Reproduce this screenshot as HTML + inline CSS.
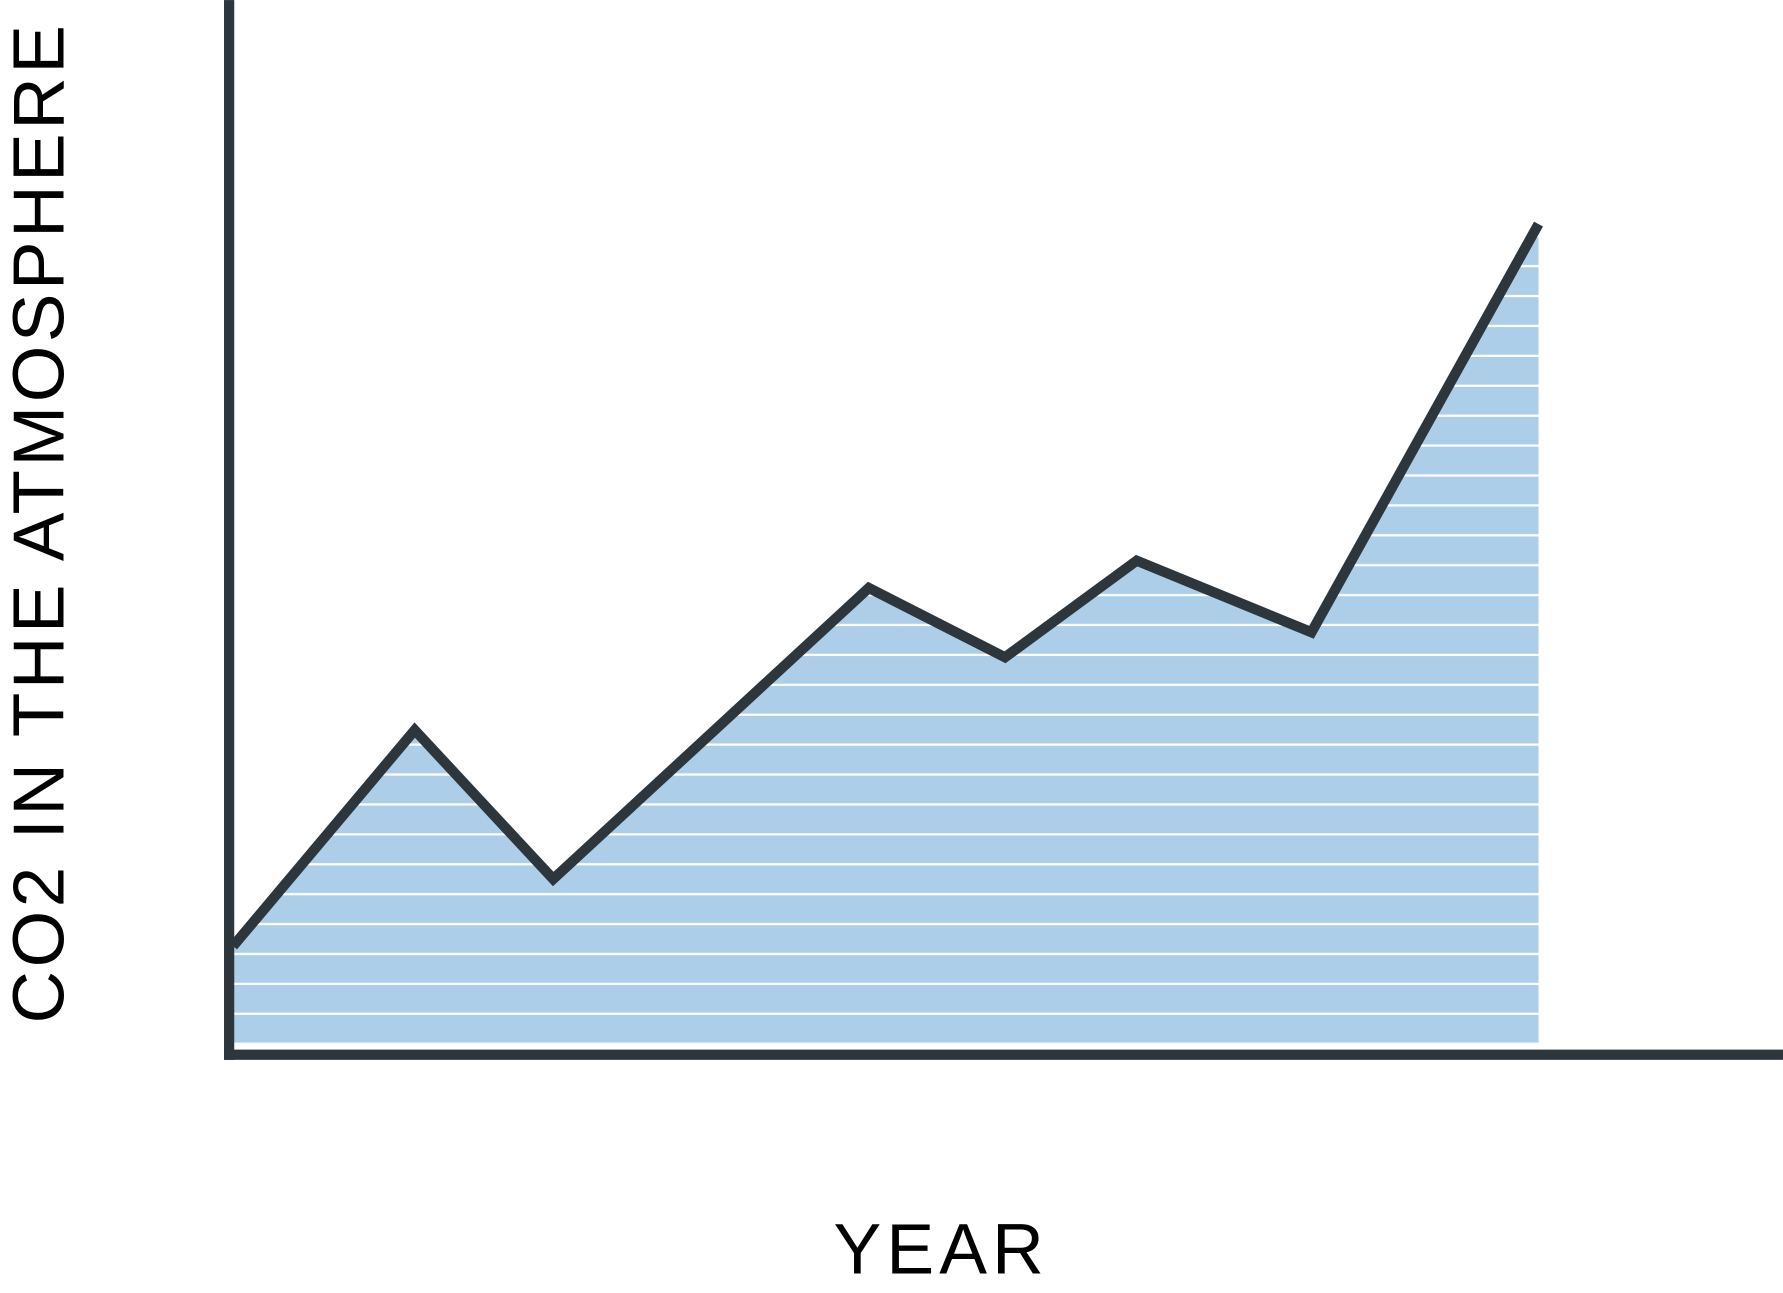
<!DOCTYPE html>
<html><head><meta charset="utf-8"><style>html,body{margin:0;padding:0;background:#fff}svg{display:block}</style></head>
<body>
<svg width="1783" height="1293" viewBox="0 0 1568 1137" xmlns="http://www.w3.org/2000/svg">
<defs>
<pattern id="stripes" patternUnits="userSpaceOnUse" x="0" y="-1.7" width="1568" height="26.3">
<rect width="1568" height="26.3" fill="#acceE8"/>
<rect y="24.3" width="1568" height="2.2" fill="#ffffff"/>
</pattern>
</defs>
<g id="plot"></g>
<rect x="197" y="0" width="9" height="932" fill="#2e363d"/>
<rect x="197" y="923" width="1371" height="9" fill="#2e363d"/>
<text transform="translate(56,900) rotate(-90)" font-family="Liberation Sans, sans-serif" font-size="64" fill="#000" textLength="878" lengthAdjust="spacing">CO2 IN THE ATMOSPHERE</text>
<text x="733" y="1120" font-family="Liberation Sans, sans-serif" font-size="63" fill="#000" textLength="185" lengthAdjust="spacing">YEAR</text>
</svg>
<script>
const years = [1900, 1916, 1928.2, 1956, 1968, 1979.6, 1995, 2015];
const co2Values = [86, 276, 145, 401, 340, 425, 362, 721];
const xMin = 1900, xMax = 2015, yMax = 918;
function xScale(v){ return 205 + (v - xMin) / (xMax - xMin) * 1148; }
function yScale(v){ return 918 - v / yMax * 918; }
const g = document.getElementById('plot');
const NS = 'http://www.w3.org/2000/svg';
const pts = years.map((yr,i)=>[xScale(yr), yScale(co2Values[i])]);
const area = document.createElementNS(NS,'path');


let d = 'M' + pts[0][0] + ',918 ' + pts.map(p=>'L'+p[0]+','+p[1]).join(' ') + ' L' + pts[pts.length-1][0] + ',918 Z';
area.setAttribute('d', d);
area.setAttribute('fill', 'url(#stripes)');
g.appendChild(area);
const line = document.createElementNS(NS,'polyline');


line.setAttribute('points', pts.map(p=>p[0]+','+p[1]).join(' '));
line.setAttribute('fill', 'none');
line.setAttribute('stroke', '#2e363d');
line.setAttribute('stroke-width', '9');
line.setAttribute('stroke-linejoin', 'miter');
g.appendChild(line);
</script>
</body></html>
